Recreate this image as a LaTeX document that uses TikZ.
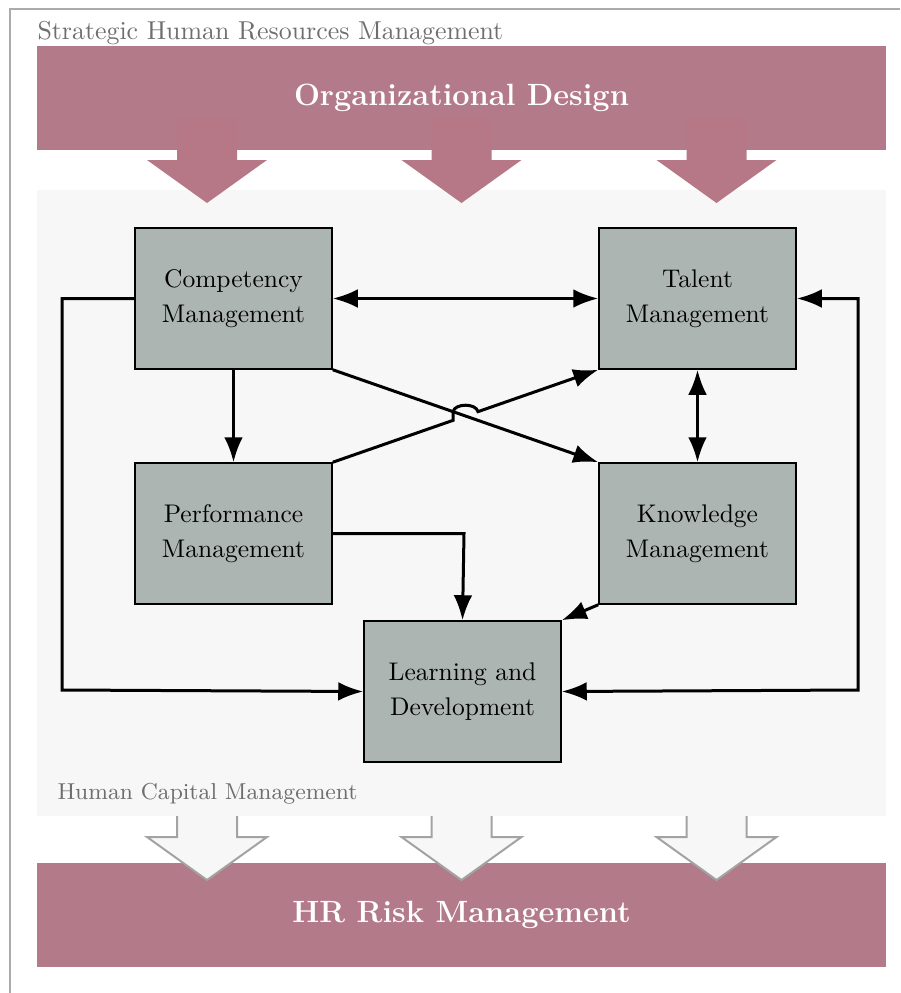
\documentclass[tikz,border=0pt]{standalone}
\usetikzlibrary{arrows.meta,calc}
\definecolor{bandc}{HTML}{B37A89}
\definecolor{arrc}{HTML}{B67886}
\definecolor{boxc}{HTML}{ADB5B2}
\definecolor{regc}{HTML}{F7F7F7}
\definecolor{framec}{HTML}{ABABAB}
\definecolor{outc}{HTML}{A3A3A3}
\definecolor{titlec}{HTML}{6E6E6E}
\tikzset{
  unitbox/.style={draw=black, line width=0.6pt, fill=boxc, minimum width=78.8pt, minimum height=56.4pt, align=center, inner sep=0pt, font=\fontsize{10.2}{14}\selectfont},
  band/.style={fill=bandc, minimum width=339.6pt, minimum height=41.6pt, inner sep=0pt, text=white, font=\fontsize{12.3}{14}\selectfont\bfseries},
  conn/.style={line width=1.2pt, draw=black},
  arr/.style={conn, -{Latex[length=10pt,width=7.5pt]}},
  darr/.style={conn, {Latex[length=10pt,width=7.5pt]}-{Latex[length=10pt,width=7.5pt]}},
  graytext/.style={inner sep=0pt, anchor=base west, text=titlec},
}
\begin{document}
\begin{tikzpicture}[x=0.4pt,y=-0.4pt]
\useasboundingbox (0,0) rectangle (900,993);
% outer frame
\draw[framec, line width=0.8pt] (10,993) -- (10,9) -- (900,9);
\node[graytext, font=\fontsize{10.35}{12}\selectfont] (sh) at (37,39) {Strategic Human Resources Management};
% HCM region
\fill[regc] (37,190) rectangle (886,816);
% top band
\node[band] (od) at (461.5,98) {Organizational Design};
% top arrows
\foreach \c in {207,461.5,716.5}{
  \fill[arrc] (\c-30,117) -- (\c-30,160) -- (\c-60,160) -- (\c,203) -- (\c+60,160) -- (\c+30,160) -- (\c+30,117) -- cycle;
}
% bottom band
\node[band] (hr) at (461.5,914.5) {HR Risk Management};
% bottom arrows
\foreach \c in {207,461.5,716.5}{
  \fill[regc] (\c-30,815) -- (\c-30,837) -- (\c-60,837) -- (\c,880) -- (\c+60,837) -- (\c+30,837) -- (\c+30,815) -- cycle;
  \draw[outc, line width=0.8pt] (\c-30,816) -- (\c-30,837) -- (\c-60,837) -- (\c,880) -- (\c+60,837) -- (\c+30,837) -- (\c+30,816);
}
\node[graytext, font=\fontsize{9.2}{11}\selectfont] (hcm) at (57,799) {Human Capital Management};
% boxes
\node[unitbox] (comp) at (233.5,298.5) {Competency\\Management};
\node[unitbox] (tal) at (697.5,298.5) {Talent\\Management};
\node[unitbox] (perf) at (233.5,533.5) {Performance\\Management};
\node[unitbox] (know) at (697.5,533.5) {Knowledge\\Management};
\node[unitbox] (learn) at (462.5,691.5) {Learning and\\Development};
% helper coordinates
\coordinate (l1) at (62,298.5);
\coordinate (l2) at (62,690);
\coordinate (r1) at (858,690);
\coordinate (r2) at (858,298.5);
\coordinate (p1) at (464,533.5);
\coordinate (j1) at ($(perf.north east)!0.453!(tal.south west)$);
\coordinate (j2) at ($(perf.north east)!0.547!(tal.south west)$);
% connectors
\draw[darr] (comp.east) -- (tal.west);
\draw[arr] (comp.south) -- (perf.north);
\draw[arr] (comp.south east) -- (know.north west);
\draw[arr] (perf.north east) -- (j1) -- (j1 |- j2) .. controls ($(j1 |- j2)+(2,-8.6)$) and ($(j2)+(-2,-8.6)$) .. (j2) -- (tal.south west);
\draw[darr] (tal.south) -- (know.north);
\draw[arr] (perf.east) -- (p1) -- (learn.north);
\draw[arr] (know.south west) -- (learn.north east);
\draw[arr] (comp.west) -- (l1) -- (l2) -- (learn.west);
\draw[darr] (learn.east) -- (r1) -- (r2) -- (tal.east);
\end{tikzpicture}
\end{document}
